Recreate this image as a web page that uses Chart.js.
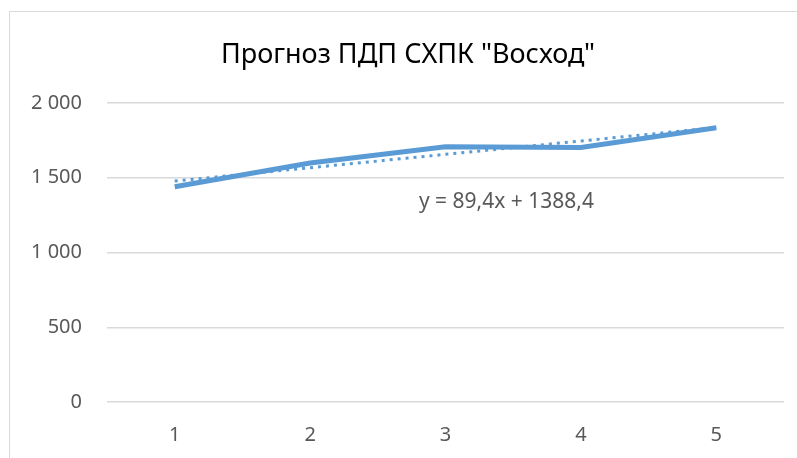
<!DOCTYPE html>
<html>
<head>
<meta charset="utf-8">
<script src="https://cdn.jsdelivr.net/npm/chart.js@4"></script>
<style>
    body { margin: 0; background: #fff; }
    #frame { position: absolute; left: 9px; top: 11px; width: 820px; height: 480px; border: 1.5px solid #d9d9d9; }
    #wrap { position: absolute; left: 0; top: 0; width: 797px; height: 458px; }
</style>
</head>
<body>
<div id="frame"></div>
<div id="wrap"><canvas id="forecastChart" width="797" height="458"></canvas></div>
<script>
const chartTitle = 'Прогноз ПДП СХПК "Восход"';
const years = ['1', '2', '3', '4', '5'];
const pdpValues = [1440, 1598, 1707, 1702, 1835];
// linear trend as shown on the chart: y = 89,4x + 1388,4
const trendValues = [1477.8, 1567.2, 1656.6, 1746.0, 1835.4];
const trendLabel = 'y = 89,4x + 1388,4';
const yTicks = [0, 500, 1000, 1500, 2000];
const yTickLabels = ['0', '500', '1 000', '1 500', '2 000'];

const fontFamily = '"Noto Sans", sans-serif';
const textColor = '#595959';

// title and trend equation are drawn as plain text
const textPlugin = {
    id: 'texts',
    afterDraw(chart) {
        const c = chart.ctx;
        c.save();
        c.textAlign = 'center';
        c.textBaseline = 'middle';
        c.fillStyle = '#000';
        c.font = '27px ' + fontFamily;
        c.fillText(chartTitle, 408, 55);
        c.fillStyle = textColor;
        c.font = '21px ' + fontFamily;
        const x = chart.scales.x.getPixelForValue(2.45);
        const y = chart.scales.y.getPixelForValue(1335);
        c.fillText(trendLabel, x, y);
        c.restore();
    }
};

let ctx = document.getElementById('forecastChart').getContext('2d');
let forecastChart = new Chart(ctx, {
    type: 'line',
    data: {
        labels: years,
        datasets: [
            {
                label: 'ПДП',
                data: pdpValues,
                borderColor: '#5b9bd5',
                borderWidth: 5,
                pointRadius: 0,
                tension: 0,
                fill: false,
                order: 2
            },
            {
                label: 'Линейная (ПДП)',
                data: trendValues,
                borderColor: '#5b9bd5',
                borderWidth: 3,
                borderDash: [3, 5],
                pointRadius: 0,
                tension: 0,
                fill: false,
                order: 1
            }
        ]
    },
    options: {
        responsive: false,
        animation: false,
        layout: { padding: { left: 0, right: 13, top: 103, bottom: 0 } },
        plugins: {
            legend: { display: false },
            title: { display: false },
            tooltip: { enabled: false }
        },
        scales: {
            x: {
                offset: true,
                grid: { display: false },
                border: { display: false },
                ticks: { color: textColor, font: { family: fontFamily, size: 20 }, padding: 13 },
                afterFit(scale) { scale.height = 56; }
            },
            y: {
                min: 0,
                max: 2000,
                afterBuildTicks(scale) { scale.ticks = yTicks.map(v => ({ value: v })); },
                grid: { color: '#d9d9d9', lineWidth: 1.5, drawTicks: false },
                border: { display: false },
                ticks: {
                    color: textColor,
                    font: { family: fontFamily, size: 20 },
                    padding: 25,
                    callback: (value) => yTickLabels[yTicks.indexOf(value)]
                },
                afterFit(scale) { scale.width = 107; }
            }
        }
    },
    plugins: [textPlugin]
});
</script>
</body>
</html>
